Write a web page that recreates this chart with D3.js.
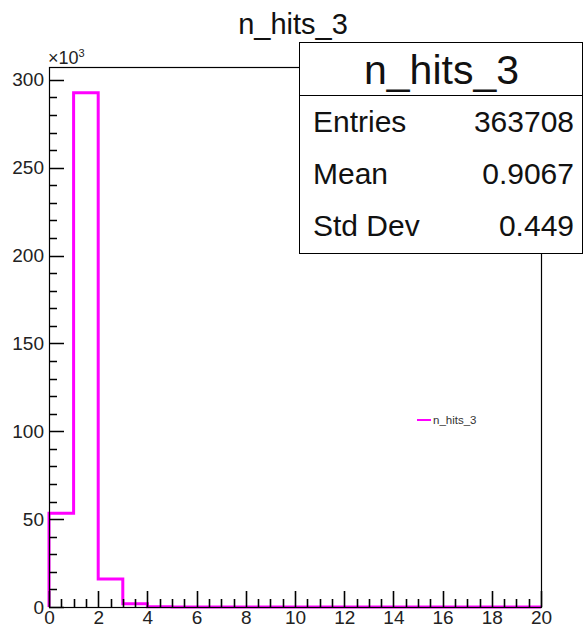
<!DOCTYPE html>
<html><head><meta charset="utf-8">
<script src="https://cdn.jsdelivr.net/npm/d3@7"></script>
<style>body{margin:0;background:#fff}svg{display:block;font-family:"Liberation Sans",Arial,sans-serif}</style>
</head><body>
<script>
const binEdges = d3.range(0, 21, 1);
const binValues = [53400, 292700, 16000, 1800, 200, 60, 20, 10, 5, 2, 1, 0, 0, 0, 0, 0, 0, 0, 0, 0];
const yTickLabels = ["0","50","100","150","200","250","300"];
const xTickLabels = ["0","2","4","6","8","10","12","14","16","18","20"];
const statsLabels = ["Entries","Mean","Std Dev"];
const statsValues = ["363708","0.9067","0.449"];
const histName = "n_hits_3";

const W = 583, H = 632;
const m = {l:49, r:42, t:67, b:25};
const svg = d3.select("body").append("svg").attr("width",W).attr("height",H);
const x = d3.scaleLinear().domain([0,20]).range([m.l, W-m.r]);
const yMax = d3.max(binValues)*1.05;
const y = d3.scaleLinear().domain([0,yMax]).range([H-m.b, m.t]);

// histogram step path
const pts = [[0,0]];
binValues.forEach((v,i)=>{pts.push([binEdges[i],v]);pts.push([binEdges[i+1],v]);});
pts.push([20,0]);
svg.append("path").attr("d",d3.line().x(d=>x(d[0])).y(d=>y(d[1])).curve(d3.curveLinear)(pts))
  .attr("fill","none").attr("stroke","#ff00ff").attr("stroke-width",3);

// frame
svg.append("rect").attr("x",m.l+0.5).attr("y",m.t+0.5).attr("width",x(20)-m.l).attr("height",y(0)-m.t)
  .attr("fill","none").attr("stroke","#000").attr("stroke-width",1.2);

// ticks
const yMinor = d3.range(0,300001,10000).filter(v=>v%50000!==0);
const yMajor = yTickLabels.map(t=>+t*1000);
const xMinor = d3.range(0,20.01,0.5).filter(v=>Math.abs(v%2)>1e-9);
const xMajor = xTickLabels.map(Number);
const p = d3.path();
yMinor.forEach(v=>{const yy=Math.round(y(v))+0.5; p.moveTo(m.l,yy); p.lineTo(m.l+8,yy);});
yMajor.forEach(v=>{const yy=Math.round(y(v))+0.5; p.moveTo(m.l,yy); p.lineTo(m.l+15,yy);});
const y0 = y(0);
xMinor.forEach(v=>{const xx=Math.round(x(v))+0.5; p.moveTo(xx,y0); p.lineTo(xx,y0-8);});
xMajor.forEach(v=>{const xx=Math.round(x(v))+0.5; p.moveTo(xx,y0); p.lineTo(xx,y0-16);});
svg.append("path").attr("d",p.toString()).attr("fill","none").attr("stroke","#000").attr("stroke-width",1.6);

// labels
svg.append("g").attr("transform",`translate(${m.l},0)`)
  .call(d3.axisLeft(y).tickValues(yMajor).tickSize(0).tickPadding(5).tickFormat((d,i)=>yTickLabels[i]))
  .call(g=>g.select(".domain").remove())
  .call(g=>g.selectAll("text").attr("font-size",19).attr("fill","#222").attr("font-family","Liberation Sans, Arial, sans-serif"));
svg.append("text").attr("x",48).attr("y",64).attr("font-size",18).attr("fill","#222")
  .html('×10<tspan dy="-7" font-size="11">3</tspan>');
svg.append("g").attr("transform",`translate(0,${y0})`)
  .call(d3.axisBottom(x).tickValues(xMajor).tickSize(0).tickPadding(4).tickFormat((d,i)=>xTickLabels[i]))
  .call(g=>g.select(".domain").remove())
  .call(g=>g.selectAll("text").attr("font-size",19).attr("fill","#222").attr("font-family","Liberation Sans, Arial, sans-serif"));

// title
svg.append("text").attr("x",293).attr("y",34).attr("text-anchor","middle").attr("font-size",29).attr("fill","#111").text(histName);

// stats box
const sb = {x:299, y:42, w:W-299-1, h:211};
svg.append("rect").attr("x",sb.x+0.5).attr("y",sb.y+0.5).attr("width",sb.w).attr("height",sb.h).attr("fill","#fff").attr("stroke","#000");
svg.append("line").attr("x1",sb.x).attr("x2",sb.x+sb.w).attr("y1",95.5).attr("y2",95.5).attr("stroke","#000");
svg.append("text").attr("x",sb.x+sb.w/2+1).attr("y",84).attr("text-anchor","middle").attr("font-size",41).attr("fill","#111").text(histName);
statsLabels.forEach((l,i)=>{
  const yy = 132 + i*52;
  svg.append("text").attr("x",313).attr("y",yy).attr("font-size",30).attr("fill","#111").text(l);
  svg.append("text").attr("x",574).attr("y",yy).attr("text-anchor","end").attr("font-size",30).attr("fill","#111").text(statsValues[i]);
});

// legend
svg.append("line").attr("x1",417).attr("x2",431).attr("y1",420).attr("y2",420).attr("stroke","#ff00ff").attr("stroke-width",2);
svg.append("text").attr("x",433).attr("y",424).attr("font-size",11.5).attr("fill","#333").text(histName);
</script>
</body></html>
